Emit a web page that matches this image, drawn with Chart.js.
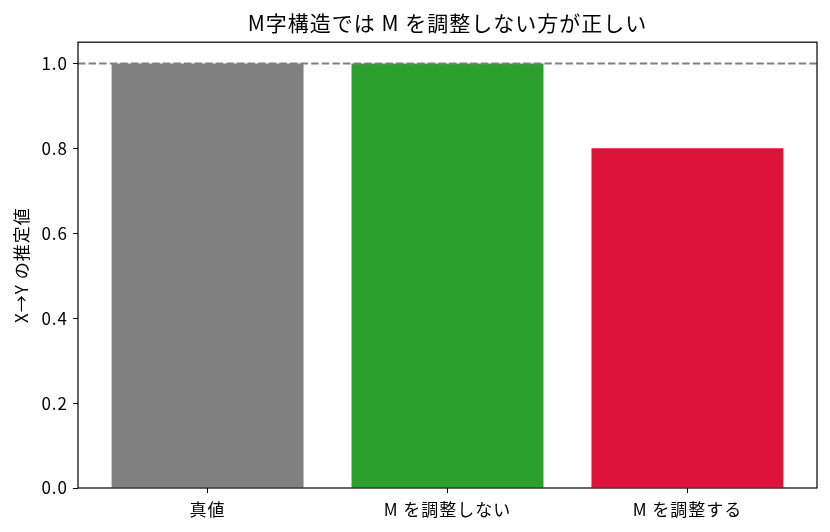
<!DOCTYPE html>
<html lang="ja">
<head>
<meta charset="UTF-8">
<script src="https://cdn.jsdelivr.net/npm/chart.js"></script>
<title>M字構造</title>
<style>
  body { margin: 0; background: #fff; }
  canvas { display: block; }
</style>
</head>
<body>
<canvas id="chart" width="830" height="532"></canvas>
<script>
const categories = ["真値", "M を調整しない", "M を調整する"];
const estimates = [1.0, 1.0, 0.8];
const barColors = ["#808080", "#2ca02c", "#dc143c"];
const trueValue = 1.0;
const yTicks = [0, 0.2, 0.4, 0.6, 0.8, 1.0];

const font = "'Noto Sans CJK JP', 'DejaVu Sans', sans-serif";
Chart.defaults.font.family = font;
Chart.defaults.color = "#000";

// the reference font is set a little wider than Noto
const spacingPlugin = {
  id: "spacing",
  beforeUpdate(chart) { chart.ctx.letterSpacing = "1px"; },
  beforeDraw(chart) { chart.ctx.letterSpacing = "1px"; }
};

// frame round the plot area + dashed reference line
const framePlugin = {
  id: "frame",
  afterDatasetsDraw(chart) {
    const { ctx, chartArea: a, scales } = chart;
    const y = scales.y.getPixelForValue(trueValue);
    ctx.save();
    ctx.strokeStyle = "#808080";
    ctx.lineWidth = 2;
    ctx.setLineDash([7.4, 3.2]);
    ctx.beginPath();
    ctx.moveTo(a.left, y);
    ctx.lineTo(a.right, y);
    ctx.stroke();
    ctx.setLineDash([]);
    ctx.strokeStyle = "#000";
    ctx.lineWidth = 1.2;
    ctx.strokeRect(a.left, a.top, a.right - a.left, a.bottom - a.top);
    ctx.restore();
  }
};

new Chart(document.getElementById("chart"), {
  type: "bar",
  data: {
    datasets: [{
      data: estimates.map((v, i) => ({ x: i, y: v })),
      backgroundColor: barColors,
      borderWidth: 0,
      barPercentage: 0.8,
      categoryPercentage: 1.0
    }]
  },
  options: {
    responsive: false,
    animation: false,
    layout: { padding: { top: 0, right: 13, left: 0, bottom: 0 } },
    plugins: {
      legend: { display: false },
      tooltip: { enabled: false },
      title: {
        display: true,
        fullSize: false,
        text: "M字構造では M を調整しない方が正しい",
        font: { size: 21, weight: "normal" },
        padding: { top: 10, bottom: 7 }
      }
    },
    scales: {
      x: {
        type: "linear",
        offset: false,
        min: -0.54,
        max: 2.54,
        afterBuildTicks: s => { s.ticks = categories.map((c, i) => ({ value: i })); },
        ticks: {
          callback: v => categories[v],
          font: { size: 17 },
          padding: 6,
          maxRotation: 0,
          autoSkip: false
        },
        grid: { offset: false, drawOnChartArea: false, tickLength: 5, color: "#000" },
        border: { display: false },
        afterFit: s => { s.height = 44; }
      },
      y: {
        min: 0,
        max: 1.05,
        afterBuildTicks: s => { s.ticks = yTicks.map(v => ({ value: v })); },
        ticks: {
          callback: v => v.toFixed(1),
          font: { size: 17 },
          padding: 5
        },
        grid: { drawOnChartArea: false, tickLength: 5, color: "#000" },
        border: { display: false },
        title: {
          display: true,
          text: "X→Y の推定値",
          font: { size: 17 },
          padding: { top: 11, bottom: 0 }
        },
        afterFit: s => { s.width = 78; }
      }
    }
  },
  plugins: [spacingPlugin, framePlugin]
});
</script>
</body>
</html>
